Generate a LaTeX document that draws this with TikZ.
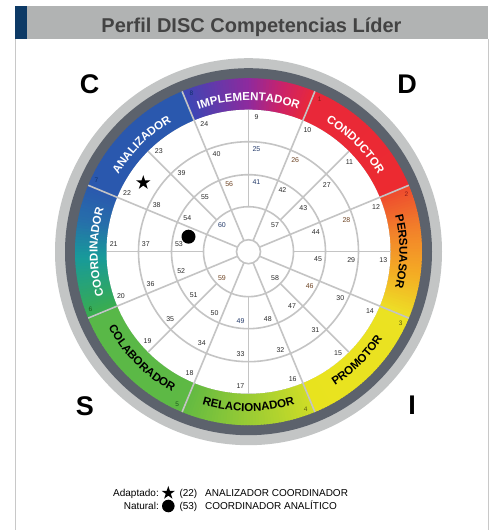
\documentclass[tikz,border=0pt]{standalone}
\usepackage{fontspec}
\setmainfont{Liberation Sans}
\usetikzlibrary{decorations.text,calc}
\definecolor{gridgray}{HTML}{C4C4C4}
\definecolor{framegray}{HTML}{C8C8C8}
\definecolor{titlegray}{HTML}{B1B3B3}
\definecolor{titleblue}{HTML}{0D3A66}
\definecolor{titletext}{HTML}{434343}
\definecolor{lightring}{HTML}{C3C5C5}
\definecolor{darkring}{HTML}{5C626C}
\definecolor{numgray}{HTML}{2A2A2A}
\definecolor{numbrown}{HTML}{6E4424}
\definecolor{numblue}{HTML}{243A6A}
% band colours
\definecolor{bcolA}{HTML}{58B848}
\definecolor{bcolB}{HTML}{5EB944}
\definecolor{brelA}{HTML}{62BA42}
\definecolor{brelB}{HTML}{D0DD26}
\definecolor{byelA}{HTML}{E8E31E}
\definecolor{byelB}{HTML}{EBE222}
\definecolor{bperA}{HTML}{EDE026}
\definecolor{bperB}{HTML}{F4AD24}
\definecolor{bperC}{HTML}{F2802A}
\definecolor{bperD}{HTML}{EE4A2E}
\definecolor{bredA}{HTML}{EC2A30}
\definecolor{bredB}{HTML}{E9283A}
\definecolor{bimpA}{HTML}{CC2268}
\definecolor{bimpB}{HTML}{8E2A9E}
\definecolor{bimpC}{HTML}{3C47B5}
\definecolor{banaA}{HTML}{2A58AE}
\definecolor{bcooA}{HTML}{2670AA}
\definecolor{bcooB}{HTML}{179A9A}
\definecolor{bcooC}{HTML}{3AAD4E}
\definecolor{bn12}{HTML}{8B1A1A}
\definecolor{bn34}{HTML}{5A5A10}
\definecolor{bn56}{HTML}{1E5A1E}
\definecolor{bn78}{HTML}{10306A}
\newcommand{\wbandfont}{\bfseries\fontsize{11.5}{12}\selectfont}
\begin{document}
\begin{tikzpicture}[x=1pt,y=1pt,
  gridline/.style={draw=gridgray, line width=1.6pt},
  num/.style={font=\fontsize{7}{8}\selectfont, inner sep=0pt},
  bandnum/.style={font=\fontsize{6.5}{7}\selectfont, inner sep=0pt},
  bigletter/.style={font=\bfseries\fontsize{27}{30}\selectfont, inner sep=0pt, anchor=base},
  legendtext/.style={font=\fontsize{10}{12}\selectfont, inner sep=0pt, anchor=base west},
  legendlabel/.style={font=\fontsize{10}{12}\selectfont, inner sep=0pt, anchor=base east}]
\useasboundingbox (0,0) rectangle (496,530);
\fill[white] (0,0) rectangle (496,530);
% frame
\draw[framegray, line width=1pt] (15.7,491) -- (15.7,0);
\draw[framegray, line width=1pt] (488.3,491) -- (488.3,0);
\fill[titlegray] (15,491) rectangle (488.3,524);
\fill[titleblue] (15,491) rectangle (26.7,524);
\node[anchor=base, font=\bfseries\fontsize{20}{24}\selectfont, text=titletext, inner sep=0pt] (title) at (251.5,497.7) {Perfil DISC Competencias Líder};

\begin{scope}[shift={(248.5,278.3)}]
  \fill[lightring] (0,0) circle[radius=193.5pt];
  \fill[darkring] (0,0) circle[radius=183.5pt];
  % gradient band
  \foreach \aa/\ab/\ca/\cb in {-157.5/-112.5/bcolA/bcolB, -112.5/-67.5/brelA/brelB, -67.5/-22.5/byelA/byelB,
      -22.5/-8/bperA/bperB, -8/8/bperB/bperC, 8/22.5/bperC/bperD, 22.5/67.5/bredA/bredB,
      67.5/78/bredB/bimpA, 78/90/bimpA/bimpB, 90/112.5/bimpB/bimpC, 112.5/157.5/banaA/banaA,
      157.5/170/banaA/bcooA, 170/182/bcooA/bcooB, 182/202.5/bcooB/bcooC}{
    \pgfmathtruncatemacro{\nn}{ceil(\ab-\aa)}
    \foreach \i in {1,...,\nn}{
      \pgfmathsetmacro{\ta}{\aa+(\i-1)*(\ab-\aa)/\nn}
      \pgfmathsetmacro{\tb}{\aa+\i*(\ab-\aa)/\nn+0.4}
      \pgfmathsetmacro{\pp}{100*(1-(\i-0.5)/\nn)}
      \fill[\ca!\pp!\cb] (\ta:142pt) arc[start angle=\ta, end angle=\tb, radius=142pt]
        -- (\tb:173.5pt) arc[start angle=\tb, end angle=\ta, radius=173.5pt] -- cycle;
    }
  }
  \fill[white] (0,0) circle[radius=142pt];
  % grid
  \foreach \r in {110,77,45,12}{\draw[gridline] (0,0) circle[radius=\r pt];}
  \foreach \a in {22.5,67.5,...,337.5}{\draw[gridline] (\a:12pt) -- (\a:173.5pt);}
  \foreach \a in {0,45,...,315}{\draw[gridline] (\a:45pt) -- (\a:142pt);}
  % numbers ring 4
  \foreach \k in {9,...,24}{
    \pgfmathsetmacro{\as}{90-22.5*(\k-9)-3.4}
    \node[num, text=numgray] (n\k) at (\as:135pt) {\k};
  }
  % ring 3
  \foreach \k/\c in {25/numblue,26/numbrown,27/numgray,28/numbrown,29/numgray,30/numgray,31/numgray,32/numgray,
      33/numgray,34/numgray,35/numgray,36/numgray,37/numgray,38/numgray,39/numgray,40/numgray}{
    \pgfmathsetmacro{\as}{90-22.5*(\k-25)-4.45}
    \node[num, text=\c] (n\k) at (\as:103pt) {\k};
  }
  % ring 2
  \foreach \k/\c in {41/numblue,42/numgray,43/numgray,44/numgray,45/numgray,46/numbrown,47/numgray,48/numgray,
      49/numblue,50/numgray,51/numgray,52/numgray,53/numgray,54/numgray,55/numgray,56/numbrown}{
    \pgfmathsetmacro{\as}{90-22.5*(\k-41)-6.5}
    \node[num, text=\c] (n\k) at (\as:70pt) {\k};
  }
  % inner
  \node[num, text=numgray] (n57) at (45:37.5pt) {57};
  \node[num, text=numgray] (n58) at (-45:37.5pt) {58};
  \node[num, text=numbrown] (n59) at (-135:37.5pt) {59};
  \node[num, text=numblue] (n60) at (135:37.5pt) {60};
  % band labels (clockwise, tops outward)
  \path[decorate, decoration={text along path, text={|\wbandfont|IMPLEMENTADOR}, text align=center, text color=white}]
    (112.5:151pt) arc[start angle=112.5, end angle=67.5, radius=151pt];
  \path[decorate, decoration={text along path, text={|\wbandfont|CONDUCTOR}, text align=center, text color=white}]
    (67.5:151pt) arc[start angle=67.5, end angle=22.5, radius=151pt];
  \path[decorate, decoration={text along path, text={|\wbandfont|PERSUASOR}, text align=center, text color=black}]
    (22.5:151pt) arc[start angle=22.5, end angle=-22.5, radius=151pt];
  \path[decorate, decoration={text along path, text={|\wbandfont|COORDINADOR}, text align=center, text color=white}]
    (202.5:151pt) arc[start angle=202.5, end angle=157.5, radius=151pt];
  \path[decorate, decoration={text along path, text={|\wbandfont|ANALIZADOR}, text align=center, text color=white}]
    (157.5:151pt) arc[start angle=157.5, end angle=112.5, radius=151pt];
  % band labels (counter-clockwise, tops inward)
  \path[decorate, decoration={text along path, text={|\wbandfont|PROMOTOR}, text align=center, text color=black}]
    (-67.5:159.5pt) arc[start angle=-67.5, end angle=-22.5, radius=159.5pt];
  \path[decorate, decoration={text along path, text={|\wbandfont|RELACIONADOR}, text align=center, text color=black}]
    (-112.5:159.5pt) arc[start angle=-112.5, end angle=-67.5, radius=159.5pt];
  \path[decorate, decoration={text along path, text={|\wbandfont|COLABORADOR}, text align=center, text color=black}]
    (-157.5:159.5pt) arc[start angle=-157.5, end angle=-112.5, radius=159.5pt];
  % band numbers
  \foreach \k/\c in {1/bn12,2/bn12,3/bn34,4/bn34,5/bn56,6/bn56,7/bn78,8/bn78}{
    \pgfmathsetmacro{\as}{67.5-45*(\k-1)-2.6}
    \node[bandnum, text=\c] (b\k) at (\as:168pt) {\k};
  }
\end{scope}

% markers
\fill[black, shift={(143.3,347.3)}] (90:7.5pt) -- (126:2.9pt) -- (162:7.5pt) -- (198:2.9pt) -- (234:7.5pt)
  -- (270:2.9pt) -- (306:7.5pt) -- (342:2.9pt) -- (18:7.5pt) -- (54:2.9pt) -- cycle;
\fill[black] (188.5,293.3) circle[radius=7pt];

% DISC letters
\node[bigletter] (lC) at (89.7,436.7) {C};
\node[bigletter] (lD) at (407,436.7) {D};
\node[bigletter] (lS) at (85,114.3) {S};
\node[bigletter] (lI) at (412,115) {I};

% legend
\node[legendlabel] (la) at (159,33) {Adaptado:};
\fill[black, shift={(168.3,37)}] (90:7pt) -- (126:2.7pt) -- (162:7pt) -- (198:2.7pt) -- (234:7pt)
  -- (270:2.7pt) -- (306:7pt) -- (342:2.7pt) -- (18:7pt) -- (54:2.7pt) -- cycle;
\node[legendtext] (la2) at (179.3,33) {(22)};
\node[legendtext] (la3) at (205,33) {ANALIZADOR COORDINADOR};
\node[legendlabel] (lb) at (159,20.4) {Natural:};
\fill[black] (168.3,24) circle[radius=6.3pt];
\node[legendtext] (lb2) at (179.3,20.4) {(53)};
\node[legendtext] (lb3) at (205,20.4) {COORDINADOR ANALÍTICO};
\end{tikzpicture}
\end{document}
